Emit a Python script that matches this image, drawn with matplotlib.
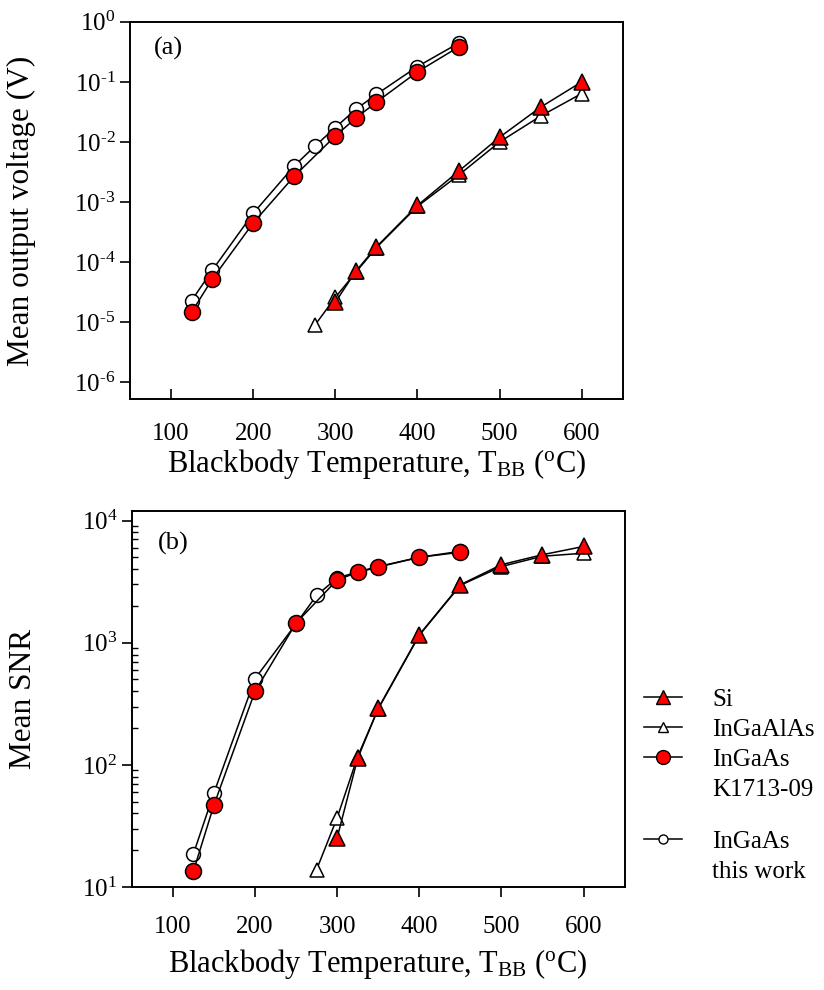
import numpy as np
import matplotlib
matplotlib.use("Agg")
import matplotlib.pyplot as plt
from matplotlib.lines import Line2D
from matplotlib.ticker import FixedLocator, FuncFormatter, LogLocator, NullFormatter, NullLocator

plt.rcParams["font.family"] = "Liberation Serif"
plt.rcParams["mathtext.fontset"] = "custom"
plt.rcParams["mathtext.rm"] = "Liberation Serif"
plt.rcParams["mathtext.it"] = "Liberation Serif:italic"

# ---- dados ----
T_si = [300, 325, 350, 400, 450, 500, 550, 600]
T_ingaalas = [275, 300, 325, 350, 400, 450, 500, 550, 600]
T_k1713 = [125, 150, 200, 250, 300, 325, 350, 400, 450]
T_thiswork = [125, 150, 200, 250, 275, 300, 325, 350, 400, 450]

# (a) tensao media de saida (V)
si_v = [2.15e-5, 7.1e-5, 1.8e-4, 8.8e-4, 3.25e-3, 1.2e-2, 3.8e-2, 0.10]
ingaalas_v = [8.9e-6, 2.6e-5, 6.8e-5, 1.75e-4, 8.5e-4, 2.8e-3, 1.0e-2, 2.7e-2, 6.4e-2]
k1713_v = [1.47e-5, 5.2e-5, 4.5e-4, 2.7e-3, 1.26e-2, 2.5e-2, 4.6e-2, 0.147, 0.38]
thiswork_v = [2.3e-5, 7.3e-5, 6.5e-4, 4.0e-3, 8.5e-3, 1.74e-2, 3.5e-2, 6.2e-2, 0.18, 0.44]

# (b) SNR medio
si_snr = [25.3, 113, 290, 1160, 2980, 4350, 5250, 6130]
ingaalas_snr = [13.9, 36.9, 117, 287, 1150, 2950, 4200, 5100, 5400]
k1713_snr = [13.5, 47, 400, 1450, 3270, 3760, 4160, 5000, 5500]
thiswork_snr = [18.7, 59, 508, 1430, 2440, 3380, 3800, 4200, 5000, 5600]

x_ticks = [100, 200, 300, 400, 500, 600]
labels = ["Si", "InGaAlAs", "InGaAs\nK1713-09", "InGaAs\nthis work"]

RED = "#ff0000"
LW = 1.1


def plot_series(ax, vals):
    si, ingaalas, k1713, thiswork = vals
    ax.plot(T_ingaalas, ingaalas, "-", color="black", lw=LW, marker="^", ms=10,
            mfc="white", mec="black", mew=1.1)
    ax.plot(T_si, si, "-", color="black", lw=LW, marker="^", ms=11,
            mfc=RED, mec="black", mew=1.1)
    ax.plot(T_thiswork, thiswork, "-", color="black", lw=LW, marker="o", ms=10,
            mfc="white", mec="black", mew=1.1)
    ax.plot(T_k1713, k1713, "-", color="black", lw=LW, marker="o", ms=11.5,
            mfc=RED, mec="black", mew=1.1)


def style_axes(ax, xpad, labelpad):
    ax.set_xlim(50, 650)
    ax.xaxis.set_major_locator(FixedLocator(x_ticks))
    ax.tick_params(axis="both", labelsize=18, width=1.2, length=7,
                   top=False, right=False)
    ax.tick_params(axis="x", pad=xpad)
    for sp in ax.spines.values():
        sp.set_linewidth(1.4)
    ax.set_xlabel(r"Blackbody Temperature, T$_{\mathregular{BB}}$ ($^{\mathregular{o}}$C)",
                  fontsize=22, labelpad=labelpad)


def log_label(v, pos):
    k = int(round(np.log10(v)))
    exp = str(k).replace("-", "\u2010")
    return r"$\mathregular{10^{%s}}$" % exp


log_fmt = FuncFormatter(log_label)

fig = plt.figure(figsize=(8.24, 9.9), dpi=100)
ax1 = fig.add_axes([0.1578, 0.597, 0.598, 0.381])
ax2 = fig.add_axes([0.160, 0.104, 0.598, 0.380])

# --- painel (a) ---
plot_series(ax1, (si_v, ingaalas_v, k1713_v, thiswork_v))
ax1.set_yscale("log")
ax1.set_ylim(5.3e-7, 1.0)
ax1.yaxis.set_major_locator(FixedLocator([10.0 ** k for k in range(-6, 1)]))
ax1.yaxis.set_major_formatter(log_fmt)
ax1.yaxis.set_minor_locator(NullLocator())
style_axes(ax1, xpad=17, labelpad=2)
ax1.tick_params(axis="x", direction="in")
ax1.tick_params(axis="y", direction="out")
ax1.set_ylabel("Mean output voltage (V)", fontsize=22.5)
ax1.yaxis.set_label_coords(-0.19, 0.5)
ax1.text(0.077, 0.93, "(a)", transform=ax1.transAxes, fontsize=19,
         ha="center", va="center")

# --- painel (b) ---
plot_series(ax2, (si_snr, ingaalas_snr, k1713_snr, thiswork_snr))
ax2.set_yscale("log")
ax2.set_ylim(10, 12000)
ax2.yaxis.set_major_locator(FixedLocator([10.0 ** k for k in range(1, 5)]))
ax2.yaxis.set_major_formatter(log_fmt)
ax2.yaxis.set_minor_locator(LogLocator(base=10, subs=np.arange(2, 10)))
ax2.yaxis.set_minor_formatter(NullFormatter())
style_axes(ax2, xpad=14, labelpad=6)
ax2.tick_params(axis="x", direction="out")
ax2.tick_params(axis="y", which="major", direction="out")
ax2.tick_params(axis="y", which="minor", direction="in", length=4, width=1.0)
ax2.set_ylabel("Mean SNR", fontsize=22.5)
ax2.yaxis.set_label_coords(-0.19, 0.5)
ax2.text(0.085, 0.912, "(b)", transform=ax2.transAxes, fontsize=19,
         ha="center", va="center")

# --- legenda (fora do painel b) ---
h_si = Line2D([], [], color="black", lw=LW, marker="^", ms=10, mfc=RED, mec="black")
h_al = Line2D([], [], color="black", lw=LW, marker="^", ms=7, mfc="white", mec="black")
h_k = Line2D([], [], color="black", lw=LW, marker="o", ms=10, mfc=RED, mec="black")
h_tw = Line2D([], [], color="black", lw=LW, marker="o", ms=6.5, mfc="white", mec="black")
h_none = Line2D([], [], linestyle="none", marker="none")

k_first, k_second = labels[2].split("\n")
t_first, t_second = labels[3].split("\n")
leg_kw = dict(loc="upper left", frameon=False, fontsize=18, handlelength=1.5,
              handletextpad=1.2, labelspacing=0.3, borderaxespad=0)
fig.legend([h_si, h_al, h_k, h_none], [labels[0], labels[1], k_first, k_second],
           bbox_to_anchor=(0.77, 0.315), **leg_kw)
fig.legend([h_tw, h_none], [t_first, t_second],
           bbox_to_anchor=(0.77, 0.171), **leg_kw)

fig.savefig("out.png", dpi=100)
